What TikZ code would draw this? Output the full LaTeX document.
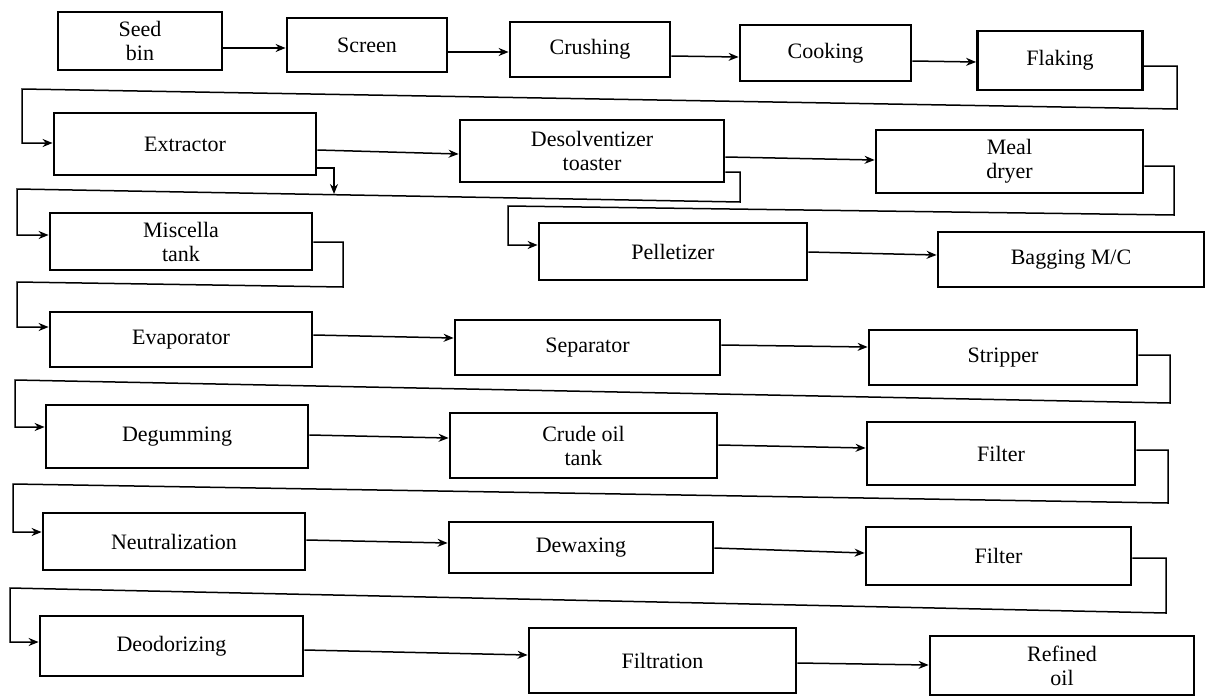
\documentclass[tikz,border=0pt]{standalone}
\usepackage{fontspec}
\setmainfont{Liberation Serif}
\usetikzlibrary{arrows.meta}
\begin{document}
\begin{tikzpicture}[x=0.5pt,y=-0.5pt,
  box/.style={draw=black, line width=1.4pt, rectangle, align=center,
    font=\fontsize{11}{12}\selectfont, inner sep=0pt},
  conn/.style={draw=black, line width=0.75pt,
    -{Stealth[length=5pt,width=4pt]}}]
\useasboundingbox (0,0) rectangle (1208,696);

% row 1: seed preparation
\node[box, minimum width=82pt, minimum height=29pt] (seed) at (140,41) {Seed\\bin};
\node[box, minimum width=80pt, minimum height=27pt] (screen) at (367,45) {Screen};
\node[box, minimum width=80pt, minimum height=27.5pt] (crushing) at (590,49.5) {Crushing};
\node[box, minimum width=85.5pt, minimum height=28pt] (cooking) at (825.5,53) {Cooking};
\node[box, minimum width=82.5pt, minimum height=29.5pt] (flaking) at (1060,60.5) {Flaking};

% row 2: extraction and meal
\node[box, minimum width=131pt, minimum height=31pt] (extractor) at (185,144) {Extractor};
\node[box, minimum width=132pt, minimum height=31pt] (desolv) at (592,151) {Desolventizer\\toaster};
\node[box, minimum width=133.5pt, minimum height=31.5pt] (meal) at (1009.5,161.5) {Meal\\dryer};

% row 3
\node[box, minimum width=131pt, minimum height=28.5pt] (miscella) at (181,241.5) {Miscella\\tank};
\node[box, minimum width=134pt, minimum height=28.5pt] (pellet) at (673,251.5) {Pelletizer};
\node[box, minimum width=133pt, minimum height=27.5pt] (bagging) at (1071,259.5) {Bagging M/C};

% row 4
\node[box, minimum width=131pt, minimum height=27.5pt] (evap) at (181,339.5) {Evaporator};
\node[box, minimum width=132.5pt, minimum height=27.5pt] (separator) at (587.5,347.5) {Separator};
\node[box, minimum width=134pt, minimum height=27.5pt] (stripper) at (1003,357.5) {Stripper};

% row 5
\node[box, minimum width=131pt, minimum height=31.5pt] (degum) at (177,436.5) {Degumming};
\node[box, minimum width=133.5pt, minimum height=32.5pt] (crude) at (583.5,445.5) {Crude oil\\tank};
\node[box, minimum width=134pt, minimum height=31.5pt] (filterA) at (1001,453.5) {Filter};

% row 6
\node[box, minimum width=131pt, minimum height=28.5pt] (neutral) at (174,541.5) {Neutralization};
\node[box, minimum width=132pt, minimum height=25.5pt] (dewax) at (581,547.5) {Dewaxing};
\node[box, minimum width=132.5pt, minimum height=29pt] (filterB) at (998.5,556) {Filter};

% row 7
\node[box, minimum width=131.5pt, minimum height=30pt] (deodor) at (171.5,646) {Deodorizing};
\node[box, minimum width=133.5pt, minimum height=32.5pt] (filtration) at (662.5,660.5) {Filtration};
\node[box, minimum width=132pt, minimum height=29.5pt] (refined) at (1062,665.5) {Refined\\oil};

% straight flows
\draw[conn] (seed.east |- 0,48) -- (screen.west |- 0,48);
\draw[conn] (screen.east |- 0,52) -- (crushing.west |- 0,52);
\draw[conn] (crushing.east |- 0,56) -- (cooking.west |- 0,57);
\draw[conn] (cooking.east |- 0,61) -- (flaking.west |- 0,62);
\draw[conn] (extractor.east |- 0,150) -- (desolv.west |- 0,154);
\draw[conn] (desolv.east |- 0,157) -- (meal.west |- 0,160);
\draw[conn] (pellet.east |- 0,252) -- (bagging.west |- 0,255);
\draw[conn] (evap.east |- 0,335) -- (separator.west |- 0,338);
\draw[conn] (separator.east |- 0,345) -- (stripper.west |- 0,347);
\draw[conn] (degum.east |- 0,435) -- (crude.west |- 0,438);
\draw[conn] (crude.east |- 0,445) -- (filterA.west |- 0,448);
\draw[conn] (neutral.east |- 0,540) -- (dewax.west |- 0,543);
\draw[conn] (dewax.east |- 0,548) -- (filterB.west |- 0,553);
\draw[conn] (deodor.east |- 0,650) -- (filtration.west |- 0,655);
\draw[conn] (filtration.east |- 0,663) -- (refined.west |- 0,665);

% return lines to the next row
\draw[conn] (flaking.east |- 0,66) -- (1177,66) -- (1177,109) -- (22,89)
  -- (22,143) -- (extractor.west |- 0,143);
\coordinate (misjoin) at (334,194);
\draw[conn] (extractor.east |- 0,168) -- (334,168) -- (misjoin);
\draw[conn] (desolv.east |- 0,172) -- (740,172) -- (740,202) -- (17,189)
  -- (17,235) -- (miscella.west |- 0,235);
\draw[conn] (meal.east |- 0,166) -- (1174,166) -- (1174,215) -- (508,206)
  -- (508,245) -- (pellet.west |- 0,245);
\draw[conn] (miscella.east |- 0,242) -- (343,242) -- (343,287) -- (17,282)
  -- (17,327) -- (evap.west |- 0,327);
\draw[conn] (stripper.east |- 0,355) -- (1170,355) -- (1170,403) -- (15,380)
  -- (15,427) -- (degum.west |- 0,427);
\draw[conn] (filterA.east |- 0,450) -- (1168,450) -- (1168,503) -- (13,484)
  -- (13,532) -- (neutral.west |- 0,532);
\draw[conn] (filterB.east |- 0,558) -- (1166,558) -- (1166,613) -- (10,588)
  -- (10,642) -- (deodor.west |- 0,642);
\end{tikzpicture}
\end{document}
